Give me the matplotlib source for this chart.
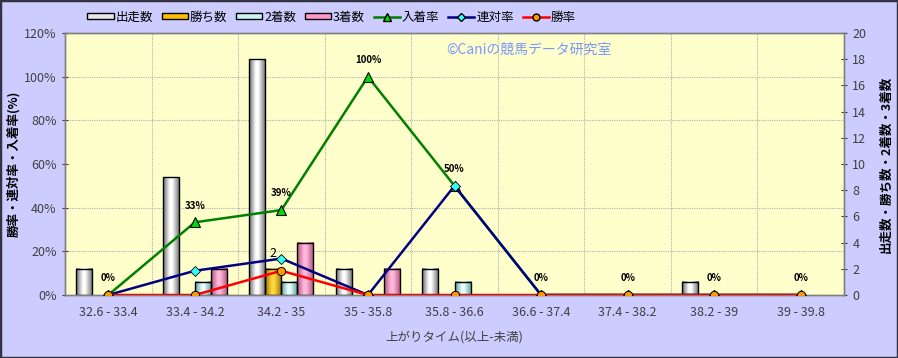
import numpy as np
import matplotlib
matplotlib.use("Agg")
import matplotlib.pyplot as plt
from matplotlib.colors import LinearSegmentedColormap
from matplotlib.patches import Rectangle, Patch
from matplotlib.lines import Line2D
from matplotlib.ticker import FixedLocator

plt.rcParams['font.family'] = ['Noto Sans CJK JP', 'DejaVu Sans']

categories = ["32.6 - 33.4", "33.4 - 34.2", "34.2 - 35", "35 - 35.8", "35.8 - 36.6",
              "36.6 - 37.4", "37.4 - 38.2", "38.2 - 39", "39 - 39.8"]
runs = [2, 9, 18, 2, 2, 0, 0, 1, 0]         # 出走数
wins = [0, 0, 2, 0, 0, 0, 0, 0, 0]          # 勝ち数
seconds = [0, 1, 1, 0, 1, 0, 0, 0, 0]       # 2着数
thirds = [0, 2, 4, 2, 0, 0, 0, 0, 0]        # 3着数
place_rate = [0, 33.3, 38.9, 100, 50, 0, 0, 0, 0]    # 入着率
quinella_rate = [0, 11.1, 16.7, 0, 50, 0, 0, 0, 0]   # 連対率
win_rate = [0, 0, 11.1, 0, 0, 0, 0, 0, 0]            # 勝率

BG = '#CCCCFF'
PLOT_BG = '#FFFFCC'
TXT = '#404040'


def shade(ax, bars, dark, light):
    # cylinder like gradient across each bar
    cmap = LinearSegmentedColormap.from_list(
        'g', [(0, dark), (0.4, light), (0.55, light), (1, dark)], N=128)
    grad = np.linspace(0, 1, 64).reshape(1, -1)
    for r in bars:
        x, y = r.get_xy()
        w, h = r.get_width(), r.get_height()
        if h <= 0:
            r.set_visible(False)
            continue
        ax.imshow(grad, cmap=cmap, extent=(x, x + w, y, y + h), aspect='auto',
                  zorder=r.get_zorder() - 0.1, interpolation='bilinear')
        r.set_facecolor('none')


fig = plt.figure(figsize=(8.98, 3.58), dpi=100, facecolor=BG)
ax = fig.add_axes([65 / 898, 1 - 295 / 358, (844 - 65) / 898, (295 - 33) / 358])
axb = ax.twinx()
ax.set_zorder(3)
axb.set_zorder(2)
ax.patch.set_visible(False)
axb.patch.set_visible(True)
axb.patch.set_facecolor(PLOT_BG)

x = np.arange(len(categories))
w = 0.185

# grid under the bars
for b in np.arange(0.5, len(categories) - 1, 1):
    axb.axvline(b, color='#B0B0B0', linestyle=(0, (1, 1)), linewidth=0.8, zorder=0)
axb.yaxis.set_minor_locator(FixedLocator(np.arange(1, 6) * 20 / 6))
axb.grid(which='minor', axis='y', color='#B0B0B0', linestyle=(0, (1, 1)), linewidth=0.8, zorder=0)
axb.set_axisbelow(True)

series = [(runs, '#6A6A6A', '#FFFFFF'), (wins, '#9A7000', '#FFD840'),
          (seconds, '#5E9A9A', '#E6FFFF'), (thirds, '#B0507C', '#FFB8DC')]
containers = []
for i, (vals, dark, light) in enumerate(series):
    bc = axb.bar(x + (i - 1.5) * w, vals, w, edgecolor='black', linewidth=1, zorder=3)
    shade(axb, bc, dark, light)
    containers.append(bc)

axb.bar_label(containers[1], labels=[str(v) if v else '' for v in wins], padding=6,
              fontsize=9, color='black', zorder=5)

axb.set_xlim(-0.5, len(categories) - 0.5)
axb.set_ylim(0, 20)
axb.set_yticks(range(0, 21, 2))
axb.tick_params(axis='y', which='minor', length=0)
axb.tick_params(axis='y', which='major', colors=TXT, labelsize=9, direction='inout', length=5)
axb.set_ylabel('出走数・勝ち数・2着数・3着数', fontsize=9, color='black', fontweight='bold')
axb.yaxis.set_label_coords((880 - 65) / 779, 0.5)

ax.plot(x, place_rate, color='#008000', lw=1.8, marker='^', ms=7,
        mfc='#00DD00', mec='black', mew=0.8, zorder=4)
ax.plot(x, quinella_rate, color='#000080', lw=1.8, marker='D', ms=5,
        mfc='#33FFFF', mec='black', mew=0.6, zorder=5)
ax.plot(x, win_rate, color='#FF0000', lw=1.8, marker='o', ms=6,
        mfc='#FF9900', mec='black', mew=0.7, zorder=6)
for xi, v in zip(x, place_rate):
    ax.annotate(f"{round(v)}%", (xi, v), xytext=(0, 12), textcoords='offset points',
                ha='center', va='center', fontsize=7, fontweight='bold', zorder=7)

ax.set_xlim(-0.5, len(categories) - 0.5)
ax.set_ylim(0, 120)
ax.set_yticks(range(0, 121, 20))
ax.set_yticklabels([f"{v}%" for v in range(0, 121, 20)])
ax.set_xticks(x)
ax.set_xticklabels(categories)
ax.tick_params(axis='y', colors=TXT, labelsize=9, direction='inout', length=5)
ax.tick_params(axis='x', colors=TXT, labelsize=9, length=0, pad=8)
ax.set_ylabel('勝率・連対率・入着率(%)', fontsize=9, color='black', fontweight='bold')
ax.yaxis.set_label_coords((20 - 65) / 779, 0.5)
ax.set_xlabel('上がりタイム(以上-未満)', fontsize=9, color=TXT, labelpad=8)
for a in (ax, axb):
    for s in a.spines.values():
        s.set_color('#808080')
        s.set_linewidth(1)

ax.text(0.49, 0.935, '©Caniの競馬データ研究室', transform=ax.transAxes, fontsize=10,
        color='#7896FF', ha='left', va='center', zorder=8)

handles = [
    Patch(facecolor='#E8E8E8', edgecolor='black', label='出走数'),
    Patch(facecolor='#FFC000', edgecolor='black', label='勝ち数'),
    Patch(facecolor='#C8F4F4', edgecolor='black', label='2着数'),
    Patch(facecolor='#FF99CC', edgecolor='black', label='3着数'),
    Line2D([], [], color='#008000', lw=1.8, marker='^', ms=6, mfc='#00DD00', mec='black', label='入着率'),
    Line2D([], [], color='#000080', lw=1.8, marker='D', ms=4, mfc='#33FFFF', mec='black', label='連対率'),
    Line2D([], [], color='#FF0000', lw=1.8, marker='o', ms=5, mfc='#FF9900', mec='black', label='勝率'),
]
fig.legend(handles=handles, loc='center left', bbox_to_anchor=(76 / 898, 1 - 17 / 358), ncol=7,
           frameon=False, fontsize=9, handlelength=2.1, handleheight=0.45, handletextpad=0.15,
           columnspacing=0.7)

fig.add_artist(Rectangle((0, 0), 1, 1, transform=fig.transFigure, fill=False,
                         edgecolor='#333344', linewidth=2.5))

fig.savefig('out.png', dpi=100, facecolor=BG)
